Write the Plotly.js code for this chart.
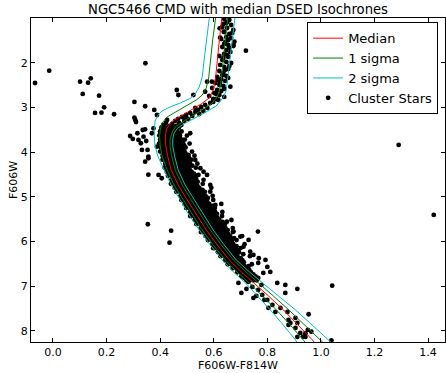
<!DOCTYPE html>
<html>
<head>
<meta charset="utf-8">
<script src="https://cdn.plot.ly/plotly-3.0.1.min.js"></script>
<style>html,body{margin:0;padding:0;background:#fff;}#chart{width:446px;height:373px;}</style>
</head>
<body>
<div id="chart"></div>
<script>
// ---- Isochrones (F606W-F814W colour, F606W magnitude) ----
const medX = [0.632,0.630,0.621,0.613,0.606,0.598,0.583,0.553,0.516,0.475,0.441,0.424,0.419,0.421,0.428,0.441,0.467,0.501,0.535,0.572,0.613,0.658,0.703,0.751,0.804,0.860,0.912,0.968,0.983];
const medY = [0.821,1.000,1.492,1.940,2.387,2.611,2.790,2.924,3.058,3.192,3.327,3.483,3.662,3.863,4.087,4.400,4.736,5.071,5.407,5.743,6.078,6.414,6.682,6.928,7.219,7.532,7.845,8.203,8.315];

const sig1LoX = [0.609,0.607,0.596,0.589,0.581,0.572,0.557,0.535,0.497,0.460,0.426,0.407,0.400,0.398,0.400,0.407,0.426,0.452,0.486,0.520,0.557,0.598,0.643,0.686,0.733,0.781,0.834,0.882,0.935,0.950];
const sig1LoY = [0.821,1.000,1.492,1.940,2.342,2.566,2.723,2.834,2.969,3.092,3.215,3.349,3.506,3.662,3.863,4.087,4.400,4.736,5.071,5.407,5.743,6.078,6.414,6.682,6.928,7.219,7.532,7.845,8.203,8.315];
const sig1HiX = [0.654,0.652,0.643,0.636,0.628,0.622,0.613,0.591,0.561,0.523,0.486,0.460,0.445,0.437,0.437,0.443,0.456,0.482,0.516,0.550,0.587,0.628,0.673,0.720,0.768,0.822,0.880,0.935,0.998,1.017];
const sig1HiY = [0.821,1.000,1.492,1.940,2.387,2.611,2.767,2.924,3.036,3.170,3.304,3.416,3.550,3.707,3.863,4.087,4.400,4.736,5.071,5.407,5.743,6.078,6.414,6.682,6.928,7.219,7.532,7.845,8.203,8.315];

const sig2LoX = [0.587,0.583,0.572,0.564,0.557,0.546,0.531,0.512,0.475,0.437,0.407,0.391,0.381,0.378,0.378,0.381,0.391,0.415,0.441,0.475,0.508,0.546,0.587,0.632,0.673,0.718,0.763,0.811,0.856,0.905,0.916];
const sig2LoY = [0.821,1.000,1.492,1.940,2.320,2.544,2.700,2.801,2.902,2.991,3.081,3.181,3.304,3.461,3.662,3.863,4.087,4.400,4.736,5.071,5.407,5.743,6.078,6.414,6.682,6.928,7.219,7.532,7.845,8.203,8.315];
const sig2HiX = [0.680,0.679,0.669,0.660,0.652,0.647,0.637,0.609,0.568,0.527,0.488,0.464,0.452,0.447,0.447,0.454,0.467,0.493,0.527,0.561,0.598,0.639,0.684,0.733,0.781,0.841,0.905,0.964,1.028,1.047];
const sig2HiY = [0.821,1.000,1.492,1.940,2.387,2.611,2.767,2.969,3.114,3.248,3.371,3.472,3.573,3.707,3.863,4.087,4.400,4.736,5.071,5.407,5.743,6.078,6.414,6.682,6.928,7.219,7.532,7.845,8.203,8.315];

// ---- Cluster stars ----
const rgbX = [0.639,0.658,0.647,0.665,0.632,0.650,0.673,0.639,0.658,0.647,0.628,0.665,0.643,0.654,0.673,0.632,0.647,0.662,0.639,0.621,0.654,0.632,0.647,0.665,0.624,0.639,0.654,0.621,0.636,0.647,0.613,0.628,0.643,0.606,0.621,0.636,0.594,0.613,0.628,0.602,0.621,0.583,0.639,0.598,0.617,0.622,0.624,0.637,0.674,0.612,0.593,0.575,0.568,0.650,0.636,0.669,0.654,0.639,0.658,0.650,0.636,0.658,0.643,0.632,0.654,0.624,0.639,0.609];
const rgbY = [1.022,1.045,1.112,1.157,1.201,1.224,1.268,1.313,1.358,1.425,1.470,1.447,1.537,1.604,1.626,1.649,1.716,1.761,1.805,1.850,1.872,1.940,1.984,2.007,2.051,2.096,2.141,2.186,2.230,2.298,2.320,2.365,2.409,2.454,2.499,2.521,2.566,2.611,2.633,2.678,2.723,2.745,2.767,2.812,2.834,1.231,1.441,1.307,1.604,2.387,2.425,2.425,2.649,1.090,1.134,1.335,1.492,1.582,1.671,1.828,1.895,2.074,2.163,2.275,2.342,2.432,2.588,2.700];

const sgbX = [0.587,0.568,0.576,0.553,0.542,0.561,0.531,0.512,0.546,0.497,0.520,0.482,0.505,0.467,0.490,0.456,0.471,0.445,0.460,0.437,0.449,0.430,0.479,0.531,0.493,0.598,0.609,0.422,0.411,0.426];
const sgbY = [2.902,2.946,3.013,2.991,3.058,3.081,3.103,3.125,3.148,3.170,3.192,3.215,3.259,3.259,3.304,3.304,3.349,3.371,3.416,3.416,3.483,3.461,3.394,3.013,3.237,2.879,2.812,3.349,3.394,3.282];

// main-sequence band, read row by row (magnitude of row, colours in row)
const msRowMag = [3.45,3.54,3.63,3.72,3.81,3.90,3.99,4.08,4.17,4.26,4.35,4.44,4.53,4.62,4.71,4.80,4.89,4.98,5.07,5.16,5.25,5.34,5.43,5.52,5.61,5.70,5.79,5.88,5.97,6.06,6.15,6.24,6.33,6.42,6.51,6.60,6.69,6.78,6.87];
const msRowColours = [
 [0.405,0.418,0.430,0.443,0.456,0.470],
 [0.400,0.412,0.425,0.437,0.450,0.464,0.480],
 [0.397,0.410,0.421,0.433,0.446,0.459,0.474,0.500],
 [0.400,0.414,0.427,0.439,0.452,0.466,0.481,0.492],
 [0.396,0.408,0.420,0.433,0.445,0.458,0.471,0.486,0.510],
 [0.403,0.417,0.430,0.441,0.454,0.467,0.481,0.495],
 [0.400,0.413,0.425,0.438,0.450,0.463,0.476,0.491,0.519],
 [0.409,0.423,0.435,0.447,0.460,0.473,0.487,0.501,0.528],
 [0.409,0.423,0.435,0.447,0.460,0.472,0.486,0.499,0.516],
 [0.419,0.432,0.445,0.457,0.470,0.483,0.497,0.512,0.539],
 [0.417,0.431,0.443,0.455,0.468,0.480,0.494,0.508,0.533],
 [0.425,0.439,0.451,0.463,0.476,0.489,0.503,0.517,0.562],
 [0.429,0.443,0.455,0.467,0.480,0.492,0.506,0.519,0.536],
 [0.442,0.455,0.468,0.480,0.493,0.506,0.520,0.535,0.562],
 [0.440,0.453,0.465,0.478,0.490,0.503,0.516,0.531,0.559],
 [0.454,0.468,0.480,0.492,0.505,0.518,0.532,0.546,0.591],
 [0.460,0.474,0.486,0.498,0.511,0.523,0.537,0.550,0.567],
 [0.476,0.489,0.502,0.514,0.527,0.540,0.554,0.569,0.596],
 [0.479,0.492,0.504,0.517,0.529,0.542,0.555,0.570,0.598],
 [0.491,0.505,0.517,0.529,0.542,0.555,0.569,0.583,0.628],
 [0.497,0.511,0.523,0.535,0.548,0.560,0.574,0.587,0.604],
 [0.512,0.525,0.538,0.550,0.563,0.576,0.590,0.605,0.632],
 [0.512,0.525,0.537,0.550,0.562,0.575,0.588,0.603,0.631],
 [0.529,0.543,0.555,0.567,0.580,0.593,0.607,0.621,0.666],
 [0.535,0.549,0.561,0.573,0.586,0.598,0.612,0.625,0.642],
 [0.551,0.564,0.577,0.589,0.602,0.615,0.629,0.644,0.671],
 [0.552,0.565,0.577,0.590,0.602,0.615,0.628,0.643,0.671],
 [0.569,0.583,0.595,0.607,0.620,0.633,0.647,0.661,0.706],
 [0.578,0.592,0.604,0.616,0.629,0.641,0.655,0.668,0.685],
 [0.595,0.608,0.621,0.633,0.646,0.659,0.673,0.715],
 [0.598,0.611,0.623,0.636,0.648,0.661,0.674,0.700],
 [0.616,0.630,0.642,0.654,0.667,0.680,0.694],
 [0.625,0.639,0.651,0.663,0.676,0.688,0.735],
 [0.643,0.656,0.669,0.681,0.694,0.707],
 [0.652,0.665,0.677,0.690,0.702,0.742],
 [0.670,0.684,0.696,0.708,0.721],
 [0.688,0.701,0.714,0.726,0.739],
 [0.703,0.716,0.728,0.741,0.756],
 [0.722,0.735,0.748,0.760]
];

// in-between rows of the crowded band core
const msMidRowMag = [3.495,3.585,3.675,3.765,3.855,3.945,4.035,4.125,4.215,4.305,4.395,4.485,4.575,4.665,4.755,4.845,4.935,5.025,5.115,5.205,5.295,5.385,5.475,5.565,5.655,5.745,5.835,5.925,6.015,6.105,6.195,6.285,6.375,6.465,6.555,6.645,6.735,6.825];
const msMidRowColours = [
 [0.405,0.418,0.431,0.444,0.457],
 [0.402,0.415,0.428,0.441,0.454,0.468],
 [0.405,0.418,0.431,0.444,0.458,0.473],
 [0.401,0.414,0.427,0.440,0.453,0.467,0.480],
 [0.409,0.423,0.436,0.449,0.462,0.476,0.490],
 [0.406,0.419,0.432,0.445,0.458,0.472,0.487],
 [0.415,0.428,0.441,0.454,0.467,0.481,0.495],
 [0.414,0.427,0.440,0.453,0.466,0.480,0.494,0.507],
 [0.423,0.436,0.449,0.462,0.475,0.489,0.503],
 [0.422,0.435,0.448,0.461,0.474,0.488,0.502,0.520],
 [0.430,0.443,0.456,0.469,0.482,0.496,0.510],
 [0.434,0.447,0.460,0.473,0.486,0.499,0.512,0.526],
 [0.447,0.460,0.473,0.486,0.499,0.512,0.527],
 [0.446,0.459,0.472,0.485,0.498,0.511,0.524,0.540],
 [0.460,0.473,0.486,0.499,0.512,0.525,0.539],
 [0.466,0.479,0.492,0.505,0.518,0.531,0.544,0.558],
 [0.481,0.494,0.507,0.520,0.533,0.547,0.561],
 [0.485,0.498,0.511,0.524,0.537,0.550,0.563,0.578],
 [0.497,0.510,0.523,0.536,0.549,0.562,0.576],
 [0.503,0.516,0.529,0.542,0.555,0.568,0.581,0.595],
 [0.517,0.530,0.543,0.556,0.569,0.583,0.597],
 [0.518,0.531,0.544,0.557,0.570,0.583,0.596,0.612],
 [0.535,0.548,0.561,0.574,0.587,0.600,0.614],
 [0.541,0.554,0.567,0.580,0.593,0.606,0.619,0.633],
 [0.556,0.569,0.582,0.595,0.608,0.621,0.636],
 [0.558,0.571,0.584,0.597,0.610,0.623,0.636,0.652],
 [0.575,0.588,0.601,0.614,0.627,0.640,0.654],
 [0.584,0.597,0.610,0.623,0.636,0.649,0.662,0.676],
 [0.600,0.613,0.626,0.639,0.652,0.666],
 [0.604,0.617,0.630,0.642,0.655,0.668,0.685],
 [0.622,0.635,0.648,0.661,0.674,0.688],
 [0.631,0.644,0.657,0.670,0.683,0.710],
 [0.649,0.662,0.675,0.688,0.701],
 [0.658,0.671,0.684,0.696,0.712],
 [0.676,0.689,0.702,0.715,0.730],
 [0.694,0.707,0.720,0.733],
 [0.709,0.722,0.735,0.748],
 [0.728,0.741,0.754]
];

const lowerX = [0.543,0.587,0.606,0.649,0.674,0.699,0.730,0.765,0.711,0.736,0.687,0.768,0.748,0.793,0.766,0.800,0.785,0.811,0.837,0.867,0.912,0.867,0.703,0.748,0.800,0.819,0.849,0.875,0.804,0.830,0.879,0.905,0.912,0.886,0.879,0.905,0.923,0.942,0.912,0.729,0.744,0.766,0.778,0.722,0.781,0.759,0.789,0.714,0.692,0.736,0.766];
const lowerY = [4.512,4.886,5.183,5.557,5.780,5.892,5.966,5.780,6.116,6.228,6.302,6.376,6.302,6.414,6.481,6.570,6.705,6.682,6.928,6.973,7.062,7.152,7.152,7.264,7.309,7.421,7.488,7.577,7.488,7.577,7.756,7.712,7.823,7.823,7.868,7.935,8.047,8.136,8.136,6.906,7.018,7.085,6.973,7.062,7.197,7.219,7.309,6.816,6.928,6.749,6.816];

const fieldX = [-0.067,-0.014,0.101,0.131,0.141,0.111,0.172,0.157,0.181,0.191,0.228,0.345,0.304,0.344,0.304,0.310,0.288,0.298,0.315,0.344,0.338,0.328,0.348,0.353,0.356,0.462,0.468,0.524,0.378,0.720,0.662,0.677,0.356,0.354,0.441,0.435,1.290,1.421,1.042,0.954,1.039,0.951,0.964,0.933,0.942,0.388,0.375,0.369,0.400,0.335,0.319,0.332,0.344,0.356,0.388,0.506,0.531,0.550,0.575,0.587,0.406,0.394,0.307,0.512];
const fieldY = [2.454,2.179,2.425,2.447,2.349,2.700,2.738,3.125,3.119,2.998,3.154,2.013,2.879,2.975,3.230,3.327,3.640,3.707,3.579,3.490,3.655,3.803,3.752,3.953,4.103,2.611,2.723,2.723,3.058,1.732,2.537,1.530,4.505,5.615,5.758,6.027,3.841,5.407,6.989,7.629,8.212,7.980,8.018,8.130,8.053,3.170,3.468,3.579,3.544,3.506,3.729,3.953,4.215,4.139,3.879,4.065,4.177,4.362,4.512,4.736,4.586,4.512,3.282,3.579];

// ---- Axis ticks ----
const xTickVals = [0.0,0.2,0.4,0.6,0.8,1.0,1.2,1.4];
const xTickText = ['0.0','0.2','0.4','0.6','0.8','1.0','1.2','1.4'];
const yTickVals = [2,3,4,5,6,7,8];
const yTickText = ['2','3','4','5','6','7','8'];

// assemble star arrays
const starX = [], starY = [];
function addStars(xs, ys){ for (let i=0;i<xs.length;i++){ starX.push(xs[i]); starY.push(ys[i]); } }
function addRows(mags, rows){ rows.forEach((row, i) => row.forEach(c => { starX.push(c); starY.push(mags[i]); })); }
addStars(rgbX, rgbY);
addStars(sgbX, sgbY);
addRows(msRowMag, msRowColours);
addRows(msMidRowMag, msMidRowColours);
addStars(lowerX, lowerY);
addStars(fieldX, fieldY);

const RED = '#ff0000', GREEN = '#008000', CYAN = '#00bfbf';
const FONT = 'DejaVu Sans, Verdana, sans-serif';

const traces = [
  {x: starX, y: starY, type: 'scatter', mode: 'markers', name: 'Cluster Stars',
   marker: {color: '#000000', size: 4.8, line: {width: 0}}, legendrank: 4},
  {x: medX, y: medY, type: 'scatter', mode: 'lines', name: 'Median',
   line: {color: RED, width: 1}, legendrank: 1},
  {x: sig1LoX, y: sig1LoY, type: 'scatter', mode: 'lines', name: '1 sigma', legendgroup: 's1',
   line: {color: GREEN, width: 1}, legendrank: 2},
  {x: sig1HiX, y: sig1HiY, type: 'scatter', mode: 'lines', name: '1 sigma', legendgroup: 's1',
   showlegend: false, line: {color: GREEN, width: 1}},
  {x: sig2LoX, y: sig2LoY, type: 'scatter', mode: 'lines', name: '2 sigma', legendgroup: 's2',
   line: {color: CYAN, width: 1}, legendrank: 3},
  {x: sig2HiX, y: sig2HiY, type: 'scatter', mode: 'lines', name: '2 sigma', legendgroup: 's2',
   showlegend: false, line: {color: CYAN, width: 1}}
];

const axisCommon = {
  showline: true, linecolor: '#000', linewidth: 1, mirror: 'ticks',
  ticks: 'inside', ticklen: 4, tickwidth: 1, tickcolor: '#000',
  showgrid: false, zeroline: false, automargin: false,
  tickfont: {family: FONT, size: 11, color: '#000'}
};

const layout = {
  width: 446, height: 373,
  margin: {l: 31, r: 1, t: 18, b: 31, pad: 0},
  paper_bgcolor: '#fff', plot_bgcolor: '#fff',
  font: {family: FONT, color: '#000'},
  title: {text: 'NGC5466 CMD with median DSED Isochrones', font: {family: FONT, size: 13.2, color: '#000'},
          x: 0.5, xref: 'paper', xanchor: 'center', y: 0.976, yref: 'container', yanchor: 'middle'},
  xaxis: Object.assign({}, axisCommon, {
    range: [-0.082, 1.463], tickmode: 'array', tickvals: xTickVals, ticktext: xTickText,
    title: {text: 'F606W-F814W', font: {family: FONT, size: 11, color: '#000'}, standoff: 2}
  }),
  yaxis: Object.assign({}, axisCommon, {
    range: [8.25, 1.0], tickmode: 'array', tickvals: yTickVals, ticktext: yTickText,
    title: {text: 'F606W', font: {family: FONT, size: 11, color: '#000'}, standoff: 0}
  }),
  showlegend: true,
  legend: {x: 0.667, y: 0.987, xanchor: 'left', yanchor: 'top', bgcolor: '#fff',
           bordercolor: '#000', borderwidth: 1, traceorder: 'normal',
           font: {family: FONT, size: 13, color: '#000'}, tracegroupgap: 0}
};

Plotly.newPlot('chart', traces, layout, {displayModeBar: false, staticPlot: true});
</script>
</body>
</html>
